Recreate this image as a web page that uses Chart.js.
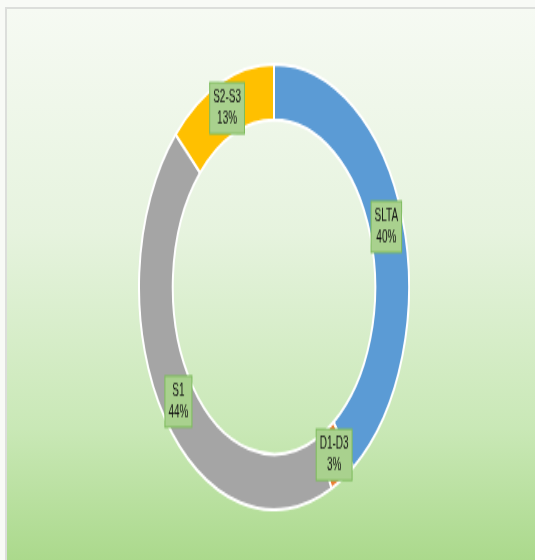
<!DOCTYPE html>
<html lang="en">
<head>
    <meta charset="UTF-8">
    <title>Doughnut</title>
    <script src="https://cdn.jsdelivr.net/npm/chart.js"></script>
    <style>
        body {
            margin: 0;
            width: 535px;
            height: 560px;
            overflow: hidden;
            background: #f8faf6;
            position: relative;
        }
        /* chart frame with the green gradient */
        .frame {
            position: absolute;
            left: 5px;
            top: 7px;
            width: 540px;
            height: 560px;
            border-left: 2px solid #dcdedb;
            border-top: 2px solid #dcdedb;
            background: linear-gradient(#f6faf3 0%, #e6f3de 40%, #c9e8b6 75%, #a9d889 100%);
        }
        /* the doughnut is drawn round and then stretched into an ellipse */
        .chart-box {
            position: absolute;
            left: 138px;
            top: 151px;
            width: 272px;
            height: 272px;
            transform: scaleY(1.65);
            transform-origin: 50% 50%;
        }
    </style>
</head>
<body>
    <div class="frame"></div>
    <div class="chart-box">
        <canvas id="ring" width="272" height="272"></canvas>
    </div>

    <script>
        // data
        const categories = ['SLTA', 'D1-D3', 'S1', 'S2-S3'];
        const shares = [40, 3, 44, 13];
        const sliceColors = ['#5b9bd5', '#ed7d31', '#a5a5a5', '#ffc000'];

        // draws the little green label boxes in the middle of each slice
        const boxLabels = {
            id: 'boxLabels',
            afterDatasetsDraw(chart) {
                const ctx = chart.ctx;
                const meta = chart.getDatasetMeta(0);
                const total = shares.reduce((a, b) => a + b, 0);
                ctx.save();
                ctx.font = '10px "Liberation Sans", Arial, sans-serif';
                ctx.textAlign = 'center';
                ctx.textBaseline = 'middle';
                meta.data.forEach((arc, i) => {
                    const pos = arc.tooltipPosition();
                    const line1 = categories[i];
                    const line2 = Math.round(shares[i] / total * 100) + '%';
                    const w = Math.max(ctx.measureText(line1).width, ctx.measureText(line2).width) + 7;
                    const h = 31;
                    ctx.fillStyle = '#a9d18e';
                    ctx.strokeStyle = '#7dbb5c';
                    ctx.lineWidth = 1;
                    ctx.fillRect(pos.x - w / 2, pos.y - h / 2, w, h);
                    ctx.strokeRect(pos.x - w / 2, pos.y - h / 2, w, h);
                    ctx.fillStyle = '#111';
                    ctx.fillText(line1, pos.x, pos.y - 6.5);
                    ctx.fillText(line2, pos.x, pos.y + 7);
                });
                ctx.restore();
            }
        };

        new Chart(document.getElementById('ring'), {
            type: 'doughnut',
            data: {
                labels: categories,
                datasets: [{
                    data: shares,
                    backgroundColor: sliceColors,
                    borderColor: '#ffffff',
                    borderWidth: 2
                }]
            },
            options: {
                responsive: false,
                animation: false,
                cutout: '75%',
                layout: { padding: 0 },
                plugins: {
                    legend: { display: false },
                    tooltip: { enabled: false }
                }
            },
            plugins: [boxLabels]
        });
    </script>
</body>
</html>
